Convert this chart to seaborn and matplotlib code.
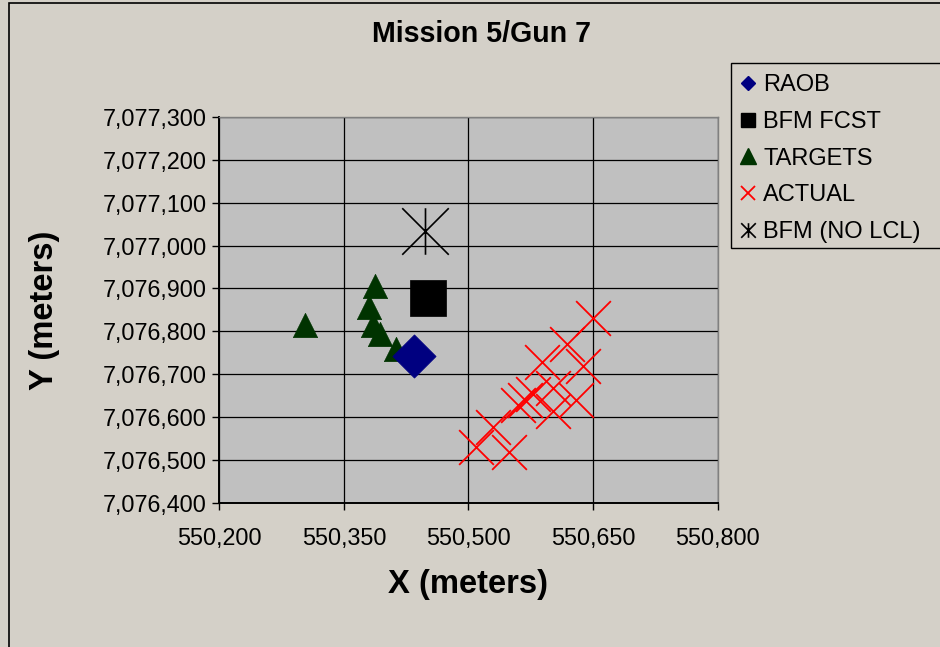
import numpy as np
import pandas as pd
import matplotlib
matplotlib.use("Agg")
import matplotlib.pyplot as plt
from matplotlib.path import Path
from matplotlib.lines import Line2D
from matplotlib.patches import Rectangle
from matplotlib.ticker import FuncFormatter, MultipleLocator
import seaborn as sns

# Impact positions (UTM-style easting / northing, meters)
raob_x = [550434]
raob_y = [7076743]

bfm_fcst_x = [550451]
bfm_fcst_y = [7076879]

targets_x = [550303, 550388, 550380, 550385, 550393, 550413]
targets_y = [7076815, 7076906, 7076856, 7076815, 7076795, 7076758]

actual_x = [550650, 550619, 550589, 550638, 550602, 550578, 550568,
            550560, 550630, 550602, 550530, 550509, 550549]
actual_y = [7076831, 7076771, 7076729, 7076719, 7076668, 7076654, 7076640,
            7076628, 7076640, 7076614, 7076577, 7076531, 7076519]

bfm_nolcl_x = [550448]
bfm_nolcl_y = [7077035]

series_names = ["RAOB", "BFM FCST", "TARGETS", "ACTUAL", "BFM (NO LCL)"]

BG = "#D4D0C8"
PLOT_BG = "#C0C0C0"
FONT = ["Liberation Sans", "DejaVu Sans"]

sns.set_theme(style="white")
plt.rcParams["font.family"] = FONT
plt.rcParams["text.color"] = "black"
plt.rcParams["axes.labelcolor"] = "black"
plt.rcParams["xtick.color"] = "black"
plt.rcParams["ytick.color"] = "black"

# star marker: vertical bar plus an X
star = Path([(-1, -1), (1, 1), (-1, 1), (1, -1), (0, -1), (0, 1)],
            [Path.MOVETO, Path.LINETO, Path.MOVETO, Path.LINETO,
             Path.MOVETO, Path.LINETO])

W, H = 940, 647
fig = plt.figure(figsize=(W / 100, H / 100), dpi=100, facecolor=BG)
ax = fig.add_axes([0.2334, 0.2226, 0.5300, 0.5967])
ax.set_facecolor(PLOT_BG)

frames = {
    "RAOB": pd.DataFrame({"x": raob_x, "y": raob_y}),
    "BFM FCST": pd.DataFrame({"x": bfm_fcst_x, "y": bfm_fcst_y}),
    "TARGETS": pd.DataFrame({"x": targets_x, "y": targets_y}),
    "ACTUAL": pd.DataFrame({"x": actual_x, "y": actual_y}),
    "BFM (NO LCL)": pd.DataFrame({"x": bfm_nolcl_x, "y": bfm_nolcl_y}),
}

styles = {
    "RAOB": dict(marker="D", s=22.0 ** 2, color="#000080", edgecolor="#000080", linewidth=0.5),
    "BFM FCST": dict(marker="s", s=26.0 ** 2, color="black", edgecolor="black", linewidth=0.5),
    "TARGETS": dict(marker="^", s=17.5 ** 2, color="#003300", edgecolor="#003300", linewidth=0.5),
    "ACTUAL": dict(marker="x", s=25.0 ** 2, color="#FF0000", linewidth=1.3),
    "BFM (NO LCL)": dict(marker=star, s=33.5 ** 2, color="black", edgecolor="black", linewidth=1.2),
}

# draw order so the diamond sits over the triangles
for name in ["BFM (NO LCL)", "BFM FCST", "TARGETS", "RAOB", "ACTUAL"]:
    sns.scatterplot(data=frames[name], x="x", y="y", ax=ax, legend=False,
                    zorder=3, **styles[name])

ax.set_xlim(550200, 550800)
ax.set_ylim(7076400, 7077300)
ax.xaxis.set_major_locator(MultipleLocator(150))
ax.yaxis.set_major_locator(MultipleLocator(100))
fmt = FuncFormatter(lambda v, p: f"{v:,.0f}")
ax.xaxis.set_major_formatter(fmt)
ax.yaxis.set_major_formatter(fmt)
ax.set_xlabel("")
ax.set_ylabel("")

ax.grid(True, color="black", linewidth=0.9)
ax.set_axisbelow(True)
for side in ["top", "right"]:
    ax.spines[side].set_color("#808080")
    ax.spines[side].set_linewidth(1.0)
for side in ["left", "bottom"]:
    ax.spines[side].set_color("black")
    ax.spines[side].set_linewidth(1.4)

ax.tick_params(axis="both", which="major", direction="out", length=5,
               width=1, color="black", labelsize=16.8, labelcolor="black")
ax.tick_params(axis="x", pad=12, bottom=True)
ax.tick_params(axis="y", pad=4, left=True)
for lab in ax.get_xticklabels() + ax.get_yticklabels():
    lab.set_family(FONT)

fig.text(481 / W, 1 - 34 / H, "Mission 5/Gun 7", ha="center", va="center",
         fontsize=20.6, fontweight="bold", family=FONT, color="black")
fig.text(468 / W, 1 - 584 / H, "X (meters)", ha="center", va="center",
         fontsize=23.6, fontweight="bold", family=FONT, color="black")
fig.text(45 / W, 1 - 310 / H, "Y (meters)", ha="center", va="center",
         rotation=90, fontsize=23.6, fontweight="bold", family=FONT, color="black")

# legend with compact marker glyphs
handles = [
    Line2D([], [], linestyle="none", marker="D", markersize=7.5,
           color="#000080", markeredgecolor="#000080"),
    Line2D([], [], linestyle="none", marker="s", markersize=10,
           color="black"),
    Line2D([], [], linestyle="none", marker="^", markersize=11,
           color="#003300"),
    Line2D([], [], linestyle="none", marker="x", markersize=10,
           color="#FF0000", markeredgewidth=1.3),
    Line2D([], [], linestyle="none", marker=star, markersize=10.5,
           color="black", markeredgewidth=1.2),
]
leg = fig.legend(handles, series_names, loc="upper left",
                 bbox_to_anchor=(729 / W, 1 - 65 / H),
                 frameon=False,
                 prop={"family": FONT, "size": 17},
                 handlelength=0.8, handletextpad=0.25, labelspacing=0.62,
                 borderpad=0.4, borderaxespad=0)
for t in leg.get_texts():
    t.set_color("black")

# legend box runs off the right edge of the chart area
fig.add_artist(Rectangle((731 / W, 1 - 248 / H), 0.3, (248 - 63) / H,
                         transform=fig.transFigure, facecolor=BG,
                         edgecolor="black", linewidth=1.0, zorder=0.5))

# outer chart border
fig.add_artist(Rectangle((9 / W, -0.1), 1.2, 1 - 3 / H + 0.1,
                         transform=fig.transFigure, fill=False,
                         edgecolor="black", linewidth=1.2))

fig.savefig("out.png", dpi=100, facecolor=BG)
